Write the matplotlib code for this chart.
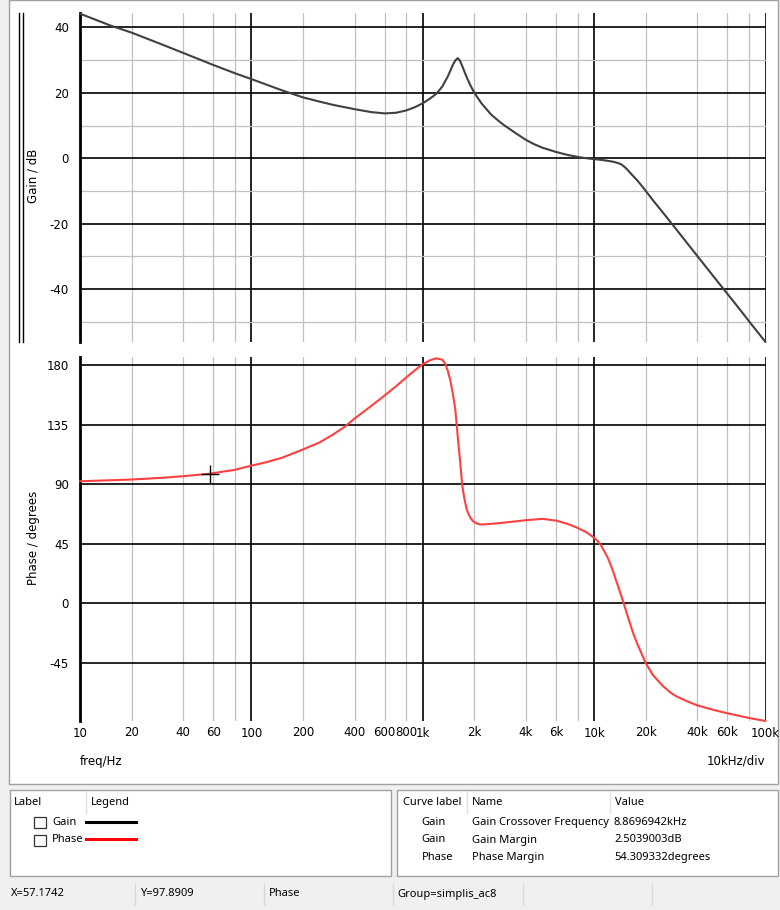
import matplotlib
matplotlib.use("Agg")
import matplotlib.pyplot as plt
from matplotlib.patches import Rectangle
from matplotlib.lines import Line2D
from matplotlib.ticker import FixedLocator, NullFormatter

# ---------------- data ----------------
gain_freq = [10, 15, 20, 30, 40, 60, 80, 100, 150, 200, 250, 300, 400, 500, 600, 700, 800, 900,
             1000, 1100, 1200, 1300, 1400, 1450, 1500, 1550, 1600, 1650, 1700, 1750, 1800,
             1900, 2000, 2200, 2500, 2800, 3000, 3500, 4000, 4500, 5000, 6000, 7000, 8000,
             9000, 10000, 11000, 12000, 13000, 14000, 14500, 15000, 15500, 16000, 17000,
             18000, 19000, 20000, 22000, 25000, 30000, 40000, 50000, 60000, 70000, 80000,
             100000]
gain_db = [44.2, 40.6, 38.4, 34.8, 32.2, 28.5, 26.0, 24.2, 20.8, 18.6, 17.3, 16.3, 15.0, 14.1,
           13.7, 13.9, 14.6, 15.6, 16.8, 18.2, 19.7, 21.9, 25.0, 26.8, 28.6, 29.9, 30.6, 29.8,
           28.2, 26.5, 24.9, 22.2, 20.0, 16.8, 13.4, 11.2, 10.0, 7.6, 5.6, 4.2, 3.2, 1.9, 1.0,
           0.4, 0.0, -0.3, -0.5, -0.8, -1.1, -1.6, -2.0, -2.6, -3.3, -4.1, -5.6, -7.0, -8.5,
           -10.0, -12.8, -16.4, -21.6, -29.9, -36.3, -41.5, -45.9, -49.8, -56.2]

phase_freq = [10, 20, 30, 40, 57, 80, 100, 120, 150, 200, 250, 300, 350, 400, 500, 600, 700,
              800, 900, 1000, 1100, 1200, 1300, 1350, 1400, 1450, 1500, 1550, 1600, 1650, 1700,
              1750, 1800, 1850, 1900, 1950, 2000, 2100, 2200, 2500, 3000, 4000, 5000, 6000,
              7000, 8000, 9000, 10000, 10500, 11000, 11500, 12000, 12500, 13000, 13500, 14000,
              14500, 15000, 16000, 17000, 18000, 19000, 20000, 22000, 25000, 28000, 30000,
              35000, 40000, 50000, 60000, 80000, 100000]
phase_deg = [92.2, 93.5, 94.8, 96.0, 97.9, 100.8, 104.0, 106.3, 109.8, 116.2, 121.5, 127.5,
             133.3, 139.5, 149.0, 157.0, 164.0, 170.5, 176.0, 180.5, 183.5, 185.0, 184.0, 181.0,
             175.5, 168.0, 158.0, 146.0, 126.0, 108.0, 89.0, 79.0, 71.5, 67.5, 64.5, 62.5, 61.3,
             60.0, 59.5, 60.0, 61.0, 62.8, 63.8, 62.5, 60.0, 57.0, 53.8, 49.5, 47.0, 43.5, 39.0,
             34.5, 29.0, 23.0, 16.5, 10.5, 4.5, -1.5, -13.0, -23.5, -31.5, -38.5, -45.0, -54.0,
             -62.0, -67.5, -70.0, -74.0, -77.0, -80.5, -83.0, -86.5, -88.8]

cursor_x = 57.1742
cursor_y = 97.8909

x_major = [10, 100, 1000, 10000, 100000]
x_major_labels = ["10", "100", "1k", "10k", "100k"]
x_minor = [20, 40, 60, 80, 200, 400, 600, 800, 2000, 4000, 6000, 8000, 20000, 40000, 60000, 80000]
x_minor_labels = ["20", "40", "60", "", "200", "400", "600", "800", "2k", "4k", "6k", "",
                  "20k", "40k", "60k", ""]
gain_major = [-40, -20, 0, 20, 40]
gain_minor = [-50, -30, -10, 10, 30]
phase_major = [-45, 0, 45, 90, 135, 180]

legend_labels = ["Gain", "Phase"]
legend_colors = ["#000000", "#ff0000"]
meas_curve = ["Gain", "Gain", "Phase"]
meas_name = ["Gain Crossover Frequency", "Gain Margin", "Phase Margin"]
meas_value = ["8.8696942kHz", "2.5039003dB", "54.309332degrees"]
status_items = ["X=57.1742", "Y=97.8909", "Phase", "Group=simplis_ac8"]

# ---------------- layout helpers ----------------
W, H = 780, 910
fig = plt.figure(figsize=(W / 100, H / 100), dpi=100, facecolor="#f0f0f0")


def fx(x):
    return x / W


def fy(y):
    return 1 - y / H


def rect(x0, y0, x1, y1, fc="white", ec="#a0a0a0", lw=1.0, z=0):
    fig.add_artist(Rectangle((fx(x0), fy(y1)), fx(x1) - fx(x0), fy(y0) - fy(y1),
                             transform=fig.transFigure, facecolor=fc, edgecolor=ec,
                             linewidth=lw, zorder=z))


def vline(x, y0, y1, color, lw=1.0, z=1):
    fig.add_artist(Line2D([fx(x), fx(x)], [fy(y0), fy(y1)], transform=fig.transFigure,
                          color=color, lw=lw, zorder=z))


def hline(y, x0, x1, color, lw=1.0, z=1):
    fig.add_artist(Line2D([fx(x0), fx(x1)], [fy(y), fy(y)], transform=fig.transFigure,
                          color=color, lw=lw, zorder=z))


UI = ["Noto Sans", "DejaVu Sans"]
ui_size = 8.0

# main white panel
rect(9, 0, 778, 784, fc="white", ec="#a0a0a0", lw=1.0, z=0)

# double vertical marker lines at left of gain plot
vline(18.7, 13, 342, "black", lw=1.0)
vline(22.7, 13, 342, "black", lw=1.0)

ax_left, ax_right = 80, 765.5
ax1 = fig.add_axes([fx(ax_left), fy(342), fx(ax_right) - fx(ax_left), fy(13) - fy(342)])
ax2 = fig.add_axes([fx(ax_left), fy(721), fx(ax_right) - fx(ax_left), fy(357) - fy(721)])

for ax in (ax1, ax2):
    ax.set_facecolor("none")
    ax.set_xscale("log")
    ax.set_xlim(10, 100000)
    for s in ("top", "right", "bottom"):
        ax.spines[s].set_visible(False)
    ax.spines["left"].set_linewidth(2.0)
    ax.spines["left"].set_color("black")
    ax.xaxis.set_major_locator(FixedLocator(x_major))
    ax.xaxis.set_minor_locator(FixedLocator(x_minor))
    ax.tick_params(axis="both", which="both", length=0, labelsize=8.5, colors="black")
    ax.tick_params(axis="y", pad=8)
    ax.tick_params(axis="x", pad=4)
    ax.grid(which="major", axis="x", color="black", lw=1.2, zorder=1)
    ax.grid(which="minor", axis="x", color="#c0c0c0", lw=0.9, zorder=0)
    ax.set_axisbelow(True)

# gain axes
ax1.set_ylim(-56.2, 44.4)
ax1.yaxis.set_major_locator(FixedLocator(gain_major))
ax1.yaxis.set_minor_locator(FixedLocator(gain_minor))
ax1.yaxis.set_minor_formatter(NullFormatter())
ax1.set_yticklabels([str(v) for v in gain_major])
ax1.grid(which="major", axis="y", color="black", lw=1.2)
ax1.grid(which="minor", axis="y", color="#c0c0c0", lw=0.9)
ax1.set_xticklabels([])
ax1.set_xticklabels([], minor=True)
ax1.plot(gain_freq, gain_db, color="#404040", lw=1.5, zorder=3, clip_on=False,
         solid_joinstyle="round", solid_capstyle="round")

# phase axes
ax2.set_ylim(-88.8, 186)
ax2.yaxis.set_major_locator(FixedLocator(phase_major))
ax2.set_yticklabels([str(v) for v in phase_major])
ax2.grid(which="major", axis="y", color="black", lw=1.2)
ax2.set_xticklabels(x_major_labels)
ax2.set_xticklabels(x_minor_labels, minor=True)
ax2.plot(phase_freq, phase_deg, color="#ff4040", lw=1.5, zorder=3, clip_on=False,
         solid_joinstyle="round", solid_capstyle="round")
ax2.plot([cursor_x], [cursor_y], marker="+", color="black", markersize=12.5, mew=1.0,
         zorder=4, linestyle="none")

# axis titles
fig.text(fx(33), fy(176), "Gain / dB", rotation=90, ha="center", va="center", fontsize=8.5)
fig.text(fx(33), fy(538), "Phase / degrees", rotation=90, ha="center", va="center", fontsize=8.5)
fig.text(fx(80), fy(761), "freq/Hz", ha="left", va="center", fontsize=8.5)
fig.text(fx(765), fy(761), "10kHz/div", ha="right", va="center", fontsize=8.5)

# ---------------- legend box ----------------
rect(9.5, 790, 390.7, 875.7, fc="white", ec="#a0a0a0", lw=1.0, z=0)
fig.text(fx(14.3), fy(802.7), "Label", ha="left", va="center", fontsize=ui_size, family=UI)
vline(85.7, 791, 813, "#e0e0e0", lw=1.0)
fig.text(fx(90.7), fy(802.7), "Legend", ha="left", va="center", fontsize=ui_size, family=UI)
row_y = [822.7, 840.0, 857.5]
for i, (lab, col) in enumerate(zip(legend_labels, legend_colors)):
    yy = row_y[i]
    rect(33.5, yy - 5.3, 45.5, yy + 5.7, fc="white", ec="#333333", lw=0.9, z=1)
    fig.text(fx(52.3), fy(yy), lab, ha="left", va="center", fontsize=ui_size, family=UI)
    hline(yy - 1.2, 86, 136, col, lw=2.2)

# ---------------- measurement table ----------------
rect(397.3, 790, 778, 875.7, fc="white", ec="#a0a0a0", lw=1.0, z=0)
fig.text(fx(402.7), fy(802.7), "Curve label", ha="left", va="center", fontsize=ui_size, family=UI)
vline(467, 791, 813, "#e0e0e0", lw=1.0)
fig.text(fx(471.7), fy(802.7), "Name", ha="left", va="center", fontsize=ui_size, family=UI)
vline(610, 791, 813, "#e0e0e0", lw=1.0)
fig.text(fx(615), fy(802.7), "Value", ha="left", va="center", fontsize=ui_size, family=UI)
for i in range(len(meas_name)):
    yy = row_y[i]
    fig.text(fx(421.7), fy(yy), meas_curve[i], ha="left", va="center", fontsize=ui_size, family=UI)
    fig.text(fx(471.7), fy(yy), meas_name[i], ha="left", va="center", fontsize=ui_size, family=UI)
    fig.text(fx(614), fy(yy), meas_value[i], ha="left", va="center", fontsize=ui_size, family=UI)

# ---------------- status bar ----------------
status_x = [11, 140, 268.7, 397.3]
for sx, txt in zip(status_x, status_items):
    fig.text(fx(sx), fy(894), txt, ha="left", va="center", fontsize=ui_size, family=UI)
for sep in [135, 264, 393, 522.7, 651.7]:
    vline(sep, 884, 905, "#d8d8d8", lw=1.0)

fig.savefig("out.png", dpi=100, facecolor=fig.get_facecolor())
